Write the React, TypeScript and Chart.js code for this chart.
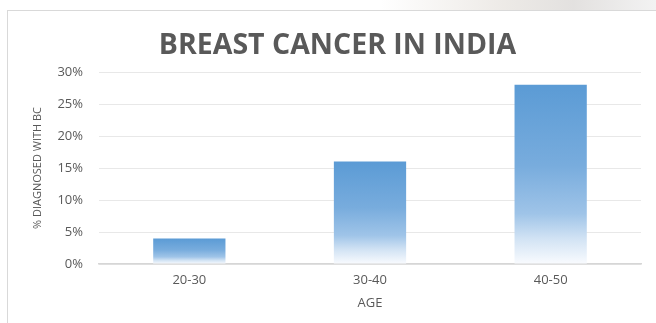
import React, { useEffect, useRef } from "react";
import { Chart, registerables } from "chart.js";

Chart.register(...registerables);

// Share of women diagnosed with breast cancer, by age band
const ageGroups = ["20-30", "30-40", "40-50"];
const diagnosedPct = [4, 16, 28];
const yMax = 30;
const yStep = 5;

const TEXT = "#595959";
const GRID = "#e8e8e8";
const AXIS = "#d6d6d6";
const FRAME = "#d9d9d9";
const FONT = "'Open Sans', 'DejaVu Sans', sans-serif";

export default function App() {
  const canvasRef = useRef<HTMLCanvasElement>(null);

  useEffect(() => {
    document.body.style.margin = "0";
    document.body.style.overflow = "hidden";
    const canvas = canvasRef.current;
    if (!canvas) return;

    const chart = new Chart(canvas, {
      type: "bar",
      data: {
        labels: ageGroups,
        datasets: [
          {
            data: diagnosedPct,
            borderWidth: 0,
            categoryPercentage: 0.8,
            barPercentage: 0.5,
            backgroundColor: (c: any) => {
              const ch = c.chart;
              if (!ch.chartArea || c.type !== "data") return "#5B9BD5";
              const y = ch.scales.y;
              const top = y.getPixelForValue(c.raw as number);
              const base = y.getPixelForValue(0);
              const g = ch.ctx.createLinearGradient(0, top, 0, base);
              g.addColorStop(0, "#5B9BD5");
              g.addColorStop(0.45, "#78ACDD");
              g.addColorStop(0.72, "#9FC4E8");
              g.addColorStop(0.86, "#D2E3F4");
              g.addColorStop(1, "#F9FBFE");
              return g;
            },
          },
        ],
      },
      options: {
        responsive: false,
        animation: false,
        devicePixelRatio: 1,
        layout: { padding: 0 },
        plugins: {
          legend: { display: false },
          tooltip: { enabled: false },
          title: {
            display: true,
            text: "BREAST CANCER IN INDIA",
            color: TEXT,
            font: { family: FONT, size: 28.5, weight: "bold", lineHeight: 1.2 },
            padding: { top: 17.5, bottom: 9.3 },
          },
        },
        scales: {
          x: {
            grid: { display: false, drawTicks: false },
            border: { display: true, color: AXIS, width: 1.5 },
            ticks: { color: TEXT, font: { family: FONT, size: 13 }, padding: 8.5 },
            title: {
              display: true,
              text: "AGE",
              color: TEXT,
              font: { family: FONT, size: 13 },
              padding: { top: 0, bottom: 12 },
            },
            afterFit: (s: any) => {
              s.height = 59;
            },
          },
          y: {
            min: 0,
            max: yMax,
            ticks: {
              stepSize: yStep,
              color: TEXT,
              font: { family: FONT, size: 13 },
              padding: 16,
              callback: (v: any) => `${v}%`,
            },
            grid: { color: GRID, drawTicks: false },
            border: { display: false },
            title: {
              display: true,
              text: "% DIAGNOSED WITH BC",
              color: TEXT,
              font: { family: FONT, size: 11 },
              padding: { top: 23, bottom: 0 },
            },
            afterFit: (s: any) => {
              s.width = 91;
            },
          },
          // empty right-hand margin inside the frame
          yRight: {
            type: "linear",
            position: "right",
            display: true,
            grid: { display: false, drawTicks: false },
            border: { display: false },
            ticks: { display: false },
            afterFit: (s: any) => {
              s.width = 26;
            },
          },
        },
      },
    });
    return () => chart.destroy();
  }, []);

  return (
    <div style={{ position: "fixed", left: 0, top: 0, width: 656, height: 323, background: "#fff", overflow: "hidden" }}>
      <div
        style={{
          position: "absolute",
          left: 380,
          top: 0,
          width: 276,
          height: 10,
          background:
            "linear-gradient(to right, rgba(255,255,255,0) 0%, rgba(225,220,214,0.6) 45%, rgba(215,212,210,0.7) 70%, rgba(230,230,230,0.5) 100%)",
        }}
      />
      <div
        style={{
          position: "absolute",
          left: 7,
          top: 10,
          width: 660,
          height: 313,
          borderLeft: `1px solid ${FRAME}`,
          borderTop: `1px solid ${FRAME}`,
          background: "#fff",
        }}
      >
        <canvas ref={canvasRef} width={659} height={312} style={{ display: "block" }} />
      </div>
    </div>
  );
}
